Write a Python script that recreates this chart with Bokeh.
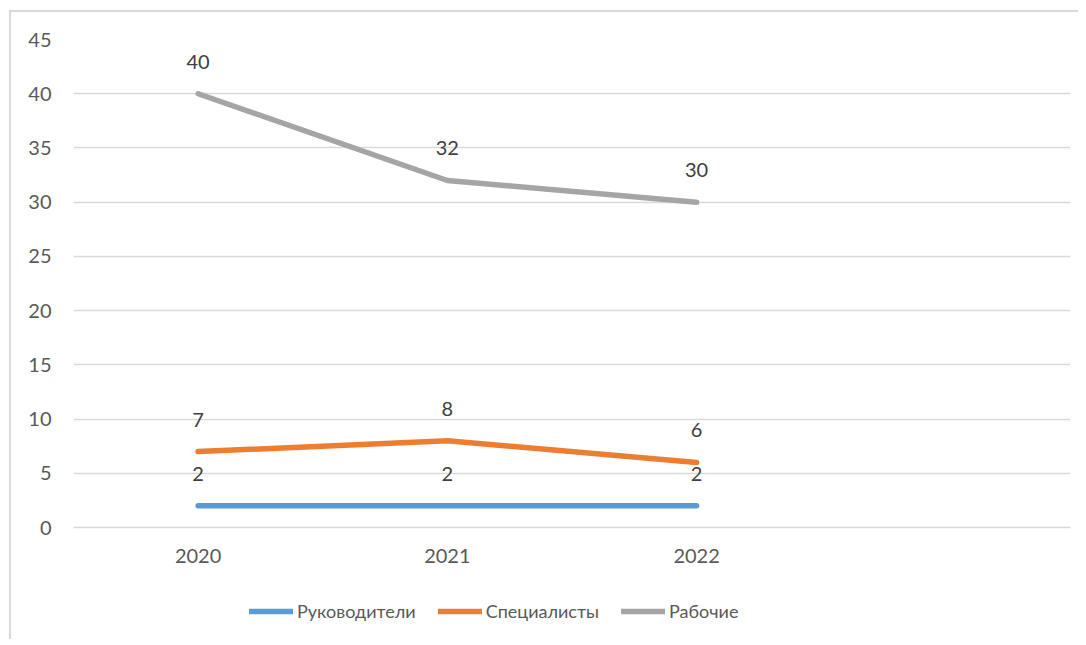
from bokeh.plotting import figure
from bokeh.layouts import column
from bokeh.models import ColumnDataSource, FixedTicker, LabelSet, Legend, LegendItem
from bokeh.core.properties import value
from bokeh.embed import file_html
from bokeh.resources import INLINE

years = ["2020", "2021", "2022"]
all_factors = ["2020", "2021", "2022", " "]
managers = [2, 2, 2]
specialists = [7, 8, 6]
workers = [40, 32, 30]
series_names = ["Руководители", "Специалисты", "Рабочие"]
colors = ["#5B9BD5", "#ED7D31", "#A5A5A5"]
y_ticks = [0, 5, 10, 15, 20, 25, 30, 35, 40, 45]

FONT = "Lato"

p = figure(x_range=all_factors, y_range=(0, 45), width=1067, height=557,
           output_backend="svg", toolbar_location=None,
           min_border_left=62, min_border_right=8, min_border_top=27, min_border_bottom=40)
p.outline_line_color = None
p.background_fill_color = "white"
p.border_fill_color = "white"

p.xgrid.grid_line_color = None
p.ygrid.grid_line_color = "#d9d9d9"
p.ygrid.grid_line_width = 1.3
p.yaxis.ticker = FixedTicker(ticks=y_ticks)
p.yaxis.axis_line_color = None
p.yaxis.major_tick_line_color = None
p.yaxis.minor_tick_line_color = None
p.yaxis.major_tick_out = 0
p.yaxis.major_label_standoff = 22
p.xaxis.axis_line_color = "#d9d9d9"
p.xaxis.axis_line_width = 1.3
p.xaxis.major_tick_line_color = None
p.xaxis.minor_tick_line_color = None
p.xaxis.major_tick_out = 0
p.xaxis.major_label_standoff = 15
for ax in (p.xaxis, p.yaxis):
    ax.major_label_text_font = FONT
    ax.major_label_text_font_size = "20px"
    ax.major_label_text_color = "#595959"

# legend strip as its own small figure
lp = figure(x_range=(0, 1), y_range=(0, 1), width=1067, height=70,
            output_backend="svg", toolbar_location=None,
            min_border_left=0, min_border_right=0, min_border_top=0, min_border_bottom=0)
lp.axis.visible = False
lp.grid.visible = False
lp.outline_line_color = None
lp.border_fill_color = "white"

items = []
for name, vals, col in zip(series_names, [managers, specialists, workers], colors):
    src = ColumnDataSource(dict(x=years, y=vals, t=[str(v) for v in vals]))
    p.line("x", "y", source=src, line_color=col, line_width=5.5, line_cap="round", line_join="round")
    lbl = LabelSet(x="x", y="y", text="t", source=src, y_offset=32, text_align="center",
                   text_baseline="middle", text_font=value(FONT), text_font_size=value("20px"),
                   text_color=value("#404040"))
    p.add_layout(lbl)
    # off-screen copy of the series, only used to draw the legend swatch
    lr = lp.line(x=[5, 6], y=[5, 5], line_color=col, line_width=5.5, line_cap="round")
    items.append(LegendItem(label=name, renderers=[lr]))

legend = Legend(items=items, orientation="horizontal", location=(176, 17),
                glyph_width=44, glyph_height=20, label_standoff=4, spacing=22,
                padding=0, margin=0, border_line_color=None, background_fill_alpha=0,
                label_text_font=FONT, label_text_font_size="18px", label_text_color="#595959")
lp.add_layout(legend, "center")

layout = column(p, lp, spacing=0, margin=(10, 0, 0, 9),
                styles={"border-left": "2px solid #d9d9d9", "border-top": "2px solid #d9d9d9"})

open("out.html", "w").write(file_html(layout, INLINE))
